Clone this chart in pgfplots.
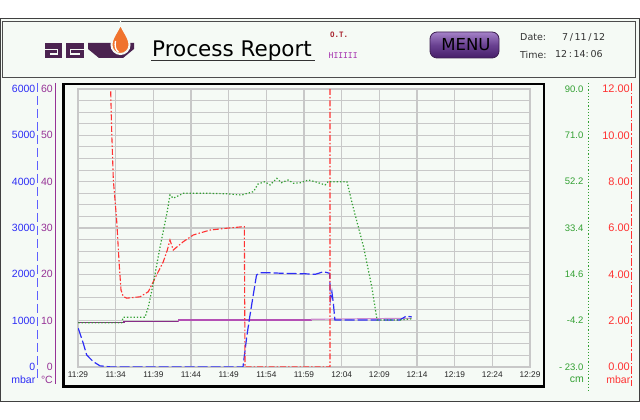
\documentclass[border=0pt]{standalone}
\usepackage{pgfplots}
\pgfplotsset{compat=1.18}
\usepackage{fontspec}
\setmainfont{Liberation Sans}
\newfontfamily\dv{DejaVu Sans}
\newfontfamily\dvm{DejaVu Sans Mono}

\definecolor{bg}{RGB}{245,250,245}
\definecolor{gridc}{RGB}{200,200,200}
\definecolor{cblue}{RGB}{45,45,245}
\definecolor{cblueax}{RGB}{95,95,255}
\definecolor{cpurp}{RGB}{150,50,150}
\definecolor{cpurpd}{RGB}{135,45,135}
\definecolor{cpurpl}{RGB}{180,80,180}
\definecolor{cpurpp}{RGB}{205,140,205}
\definecolor{cgreen}{RGB}{50,160,50}
\definecolor{cred}{RGB}{255,50,50}
\definecolor{plum}{RGB}{75,35,80}
\definecolor{orng}{RGB}{240,115,45}
\definecolor{otred}{RGB}{170,40,50}
\definecolor{hipurp}{RGB}{165,50,175}

% axes placed in pt, y up; plot area is x 78..530, y 53..331
\pgfplotsset{
  plotarea/.style={at={(78pt,53pt)}, anchor=south west, scale only axis,
    width=452pt, height=278pt, xmin=0, xmax=60},
  scalelabels/.style={anchor=south west, scale only axis, width=1pt, height=278pt,
    xmin=0, xmax=1, hide x axis, axis y line*=left, y axis line style={draw=none},
    major tick length=0pt, yticklabel style={anchor=east, inner sep=0pt, xshift=-2pt}},
}

\begin{document}
\begin{tikzpicture}
% screen-style coordinates (y down) for the frame and header
\begin{scope}[x=1pt, y=-1pt, yshift=420pt]
\fill[white] (0,0) rectangle (640,420);
\draw[fill=bg, draw=black!75, line width=1.2pt] (0.6,18.5) rectangle (639.4,401.5);
\draw[fill=bg, draw=black!70, line width=1pt] (2.5,21.5) rectangle (635.5,78);

% logo
\fill[plum] (45,43) rectangle (62,58);
\draw[bg, line width=1.6pt] (45,49.5) -- (57.5,49.5) -- (57.5,54) -- (49.5,54);
\fill[plum] (66,43) rectangle (84,58);
\draw[bg, line width=1.6pt] (84,49.5) -- (70.5,49.5) -- (70.5,54) -- (80,54);
\fill[plum] (88,43) -- (134,43) -- (134,49) -- (123,58) -- (99,58) -- (88,49) -- cycle;
\draw[bg, line width=2pt, fill=orng] (120.5,23) .. controls (122,30) and (129.5,37) .. (129.5,45)
   arc (0:180:9) .. controls (111.5,37) and (119,30) .. (120.5,23) -- cycle;
\draw[white, line width=1.3pt] (115.5,41) .. controls (114.5,46) and (115.5,50) .. (118.5,52);

\node[anchor=base west, inner sep=0pt, font=\dv\fontsize{21.5}{23}\selectfont] at (152,56.7) {Process Report};
\draw[black!80, line width=1pt] (151,60.5) -- (315,60.5);
\node[anchor=west, inner sep=0pt, text=otred, font=\dvm\bfseries\fontsize{7.5}{8}\selectfont] at (330,35) {O.T.};
\node[anchor=west, inner sep=0pt, text=hipurp, font=\dvm\fontsize{8}{9}\selectfont] at (328.5,56) {HIIIII};

\shade[rounded corners=7pt, top color={rgb,255:red,165;green,130;blue,200}, bottom color={rgb,255:red,70;green,30;blue,105}, middle color={rgb,255:red,105;green,65;blue,145}]
  (430,32) rectangle (499,58);
\draw[rounded corners=7pt, draw={rgb,255:red,60;green,30;blue,80}, line width=0.8pt] (430,32) rectangle (499,58);
\node[font=\dv\fontsize{16.5}{18}\selectfont, inner sep=0pt] at (466,45) {MENU};

\node[anchor=west, inner sep=0pt, font=\dv\fontsize{9.5}{11}\selectfont, text=black!80] at (520,37) {Date:};
\node[anchor=west, inner sep=0pt, font=\dv\fontsize{9.5}{11}\selectfont, text=black!80] at (562,37) {7\,/\,11\,/\,12};
\node[anchor=west, inner sep=0pt, font=\dv\fontsize{9.5}{11}\selectfont, text=black!80] at (520,54.5) {Time:};
\node[anchor=west, inner sep=0pt, font=\dv\fontsize{9.5}{11}\selectfont, text=black!80] at (555,54.5) {12\,:\,14:\,06};

% plot frame
\draw[black, line width=2.2pt] (63.5,84) rectangle (544,386.5);
\end{scope}

% grid
\begin{axis}[plotarea, ymin=0, ymax=24,
  xtick={0,5,...,60},
  xticklabels={11:29,11:34,11:39,11:44,11:49,11:54,11:59,12:04,12:09,12:14,12:19,12:24,12:29},
  ytick={0,1,...,24}, yticklabels={},
  grid=major, major grid style={gridc, line width=1.1pt},
  axis line style={gridc, line width=1.1pt}, major tick length=0pt,
  xticklabel style={font=\fontsize{8.3}{9}\selectfont, text=black!85, yshift=-1pt}]
\end{axis}

% purple, degC
\begin{axis}[plotarea, ymin=0, ymax=60, hide axis]
\addplot[cpurpd, line width=1.2pt] coordinates {(0,9.56) (6.1,9.56) (6.1,9.78) (13.3,9.78)};
\addplot[cpurpl, line width=1.2pt] coordinates {(13.3,9.78) (13.3,10.14) (31.0,10.14)};
\addplot[cpurpp, line width=1.2pt] coordinates {(31.0,10.14) (31.0,10.3) (44.3,10.5)};
\end{axis}

% blue, mbar
\begin{axis}[plotarea, ymin=0, ymax=6000, hide axis]
\addplot[cblue, line width=1.2pt, dash pattern=on 10pt off 3pt] coordinates {
(0.04,835) (0.7,511) (1.15,259) (2.03,115) (2.92,25) (4.4,0) (21.9,0) (22.4,654)
(22.8,1086) (23.3,1590) (23.7,1986) (24.2,2035) (25.0,2035) (27.3,2022) (30.4,2010)
(31.5,2000) (32.6,2057) (33.4,2022) (33.5,1446) (33.7,1625) (33.9,1374) (34.1,1014)
(42.7,1014) (43.6,1100) (44.3,1080)};
\end{axis}

% red, mbar
\begin{axis}[plotarea, ymin=0, ymax=12, hide axis]
\addplot[cred, line width=1.1pt, dash pattern=on 6pt off 2pt on 1.5pt off 2pt] coordinates {
(4.34,11.9) (4.47,10.2) (4.69,8.07) (5.13,6.35) (5.49,4.33) (5.71,3.32) (6.0,3.05)
(6.46,2.97) (8.23,3.03) (9.34,3.25) (10.22,3.83) (11.33,4.55) (11.86,5.05) (12.21,5.48)
(12.65,5.05) (13.98,5.41) (15.31,5.70) (17.52,5.91) (19.73,5.99) (22.08,6.06) (22.17,0)
(33.45,0) (33.45,12)};
\end{axis}

% green, cm
\begin{axis}[plotarea, ymin=-23, ymax=90, hide axis]
\addplot[cgreen, line width=1.2pt, dash pattern=on 1.3pt off 2pt] coordinates {
(0.04,-5.0) (5.8,-5.0) (6.0,-2.8) (8.9,-2.8) (9.34,1.5) (10.0,11.0) (10.9,25.9)
(11.8,39.5) (12.21,46.9) (12.65,45.6) (13.98,47.6) (17.5,47.6) (19.7,47.4) (21.7,46.9)
(23.3,48.3) (23.9,51.4) (24.8,52.3) (25.5,51.0) (26.4,53.7) (27.0,51.9) (27.9,53.0)
(28.6,51.7) (29.5,51.9) (30.6,53.0) (31.5,52.3) (32.8,51.0) (33.2,52.3) (35.7,52.3)
(36.5,42.2) (37.9,25.9) (39.0,9.6) (39.7,-3.9) (42.7,-3.9) (44.3,-3.4)};
\end{axis}

% scale labels
\begin{axis}[scalelabels, at={(37.5pt,53pt)}, ymin=0, ymax=6000,
  ytick={0,1000,...,6000}, yticklabels={0,1000,2000,3000,4000,5000,6000},
  yticklabel style={text=cblue, font=\fontsize{10.5}{12}\selectfont}]
\end{axis}
\begin{axis}[scalelabels, at={(55pt,53pt)}, ymin=0, ymax=60,
  ytick={0,10,...,60}, yticklabels={0,10,20,30,40,50,60},
  yticklabel style={text=cpurp, font=\fontsize{10.5}{12}\selectfont}]
\end{axis}
\begin{axis}[scalelabels, at={(588.5pt,53pt)}, ymin=-23, ymax=90,
  ytick={-23,-4.1667,14.6667,33.5,52.3333,71.1667,90},
  yticklabels={- 23.0,-4.2,14.6,33.4,52.2,71.0,90.0},
  yticklabel style={text=cgreen, font=\fontsize{9.5}{11}\selectfont, xshift=-3pt}]
\end{axis}
\begin{axis}[scalelabels, at={(631.5pt,53pt)}, ymin=0, ymax=12,
  ytick={0,2,...,12}, yticklabels={0.00,2.00,4.00,6.00,8.00,10.00,12.00},
  yticklabel style={text=cred, font=\fontsize{11}{12}\selectfont, xshift=0.5pt}]
\end{axis}

% scale lines and units
\begin{scope}[x=1pt, y=-1pt, yshift=420pt]
\draw[cblueax, line width=1.3pt, dash pattern=on 9pt off 4pt] (37.5,83) -- (37.5,381);
\draw[cpurp, line width=1.2pt] (55.5,83) -- (55.5,384);
\draw[cgreen, line width=1.2pt, dash pattern=on 1.2pt off 2pt] (588.5,83) -- (588.5,392);
\draw[cred, line width=1.2pt, dash pattern=on 8pt off 2pt on 1.5pt off 2pt] (631.5,83) -- (631.5,386);
\node[anchor=east, inner sep=0pt, text=cblue, font=\fontsize{10.5}{12}\selectfont] at (35.5,379.5) {mbar};
\node[anchor=east, inner sep=0pt, text=cpurp, font=\fontsize{10.5}{12}\selectfont] at (53,379.5) {°C};
\node[anchor=east, inner sep=0pt, text=cgreen, font=\fontsize{10.5}{12}\selectfont] at (584,379.5) {cm};
\node[anchor=east, inner sep=0pt, text=cred, font=\fontsize{10.5}{12}\selectfont] at (630.5,379.5) {mbar};
\end{scope}
\end{tikzpicture}
\end{document}
